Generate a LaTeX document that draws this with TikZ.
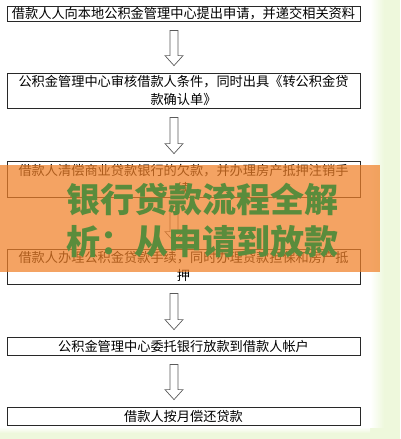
\documentclass[tikz,border=0pt]{standalone}
\usepackage{fontspec}
\setmainfont{Noto Sans CJK SC}
\usetikzlibrary{calc}
\definecolor{bggreen}{RGB}{238,248,220}
\definecolor{ovorange}{RGB}{240,128,40}
\definecolor{bannergreen}{RGB}{90,140,60}
\definecolor{boxline}{RGB}{40,40,40}
\definecolor{arrline}{RGB}{90,90,90}
\tikzset{
  stepbox/.style={draw=boxline, line width=0.8pt, rectangle, inner sep=0pt,
    minimum width=353pt, align=center, font=\fontsize{13.2}{18}\selectfont},
  blockarrow/.style={draw=arrline, line width=0.7pt, fill=white, line join=miter},
  bannertext/.style={text=bannergreen, align=center, inner sep=0pt,
    font=\fontsize{34}{42}\selectfont\bfseries}
}
\newcommand{\barrow}[2]{%
  \draw[blockarrow] let \p1=(#1.south), \p2=(#2.north) in
    (170pt,{\y1-9pt}) -- (178pt,{\y1-9pt}) -- (178pt,{\y2+17pt}) -- (183pt,{\y2+17pt})
    -- (174pt,{\y2+7pt}) -- (165pt,{\y2+17pt}) -- (170pt,{\y2+17pt}) -- cycle;}
\begin{document}
\begin{tikzpicture}[x=1pt,y=-1pt]
\useasboundingbox (0,0) rectangle (400,439);
% background
\fill[bggreen] (0,0) rectangle (400,439);
\fill[white] (0,0) rectangle (370,427);
\shade[left color=white, right color=bggreen] (370,0) rectangle (384,427);
\shade[top color=white, bottom color=bggreen] (0,427) rectangle (370,433);
% boxes
\node[stepbox, minimum height=15pt] (b1) at (183.5,13.5) {借款人人向本地公积金管理中心提出申请，并递交相关资料};
\node[stepbox, minimum height=35pt] (b2) at (183.5,90.5) {公积金管理中心审核借款人条件，同时出具《转公积金贷\\款确认单》};
\node[stepbox, minimum height=36pt] (b3) at (183.5,179) {借款人清偿商业贷款银行的欠款，并办理房产抵押注销手\\续};
\node[stepbox, minimum height=35pt] (b4) at (183.5,266.5) {借款人办理公积金贷款手续，同时办理贷款担保和房产抵\\押};
\node[stepbox, minimum height=18pt] (b5) at (183.5,346) {公积金管理中心委托银行放款到借款人帐户};
\node[stepbox, minimum height=18pt] (b6) at (183.5,416) {借款人按月偿还贷款};
% arrows
\barrow{b1}{b2}
\barrow{b2}{b3}
\barrow{b3}{b4}
\barrow{b4}{b5}
\barrow{b5}{b6}
% overlay banner
\fill[ovorange, opacity=0.72] (0,165) rectangle (380,272);
\node[bannertext] (banner) at (202,221) {银行贷款流程全解\\析：从申请到放款};
\end{tikzpicture}
\end{document}
